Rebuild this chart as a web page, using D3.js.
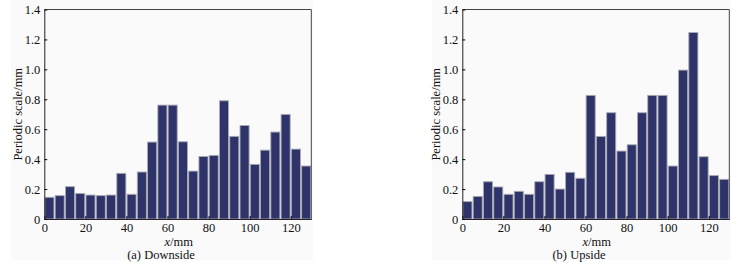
<!DOCTYPE html>
<html>
<head>
<meta charset="utf-8">
<script src="https://cdn.jsdelivr.net/npm/d3@7"></script>
<style>
  body { margin: 0; background: #fff; }
  svg { display: block; }
  svg text { font-family: "Liberation Serif", "Times New Roman", serif; }
</style>
</head>
<body>
<div id="chart"></div>
<script>
// ============================
// Data
// ============================
const binStarts = [0, 5, 10, 15, 20, 25, 30, 35, 40, 45, 50, 55, 60, 65, 70, 75, 80, 85, 90, 95, 100, 105, 110, 115, 120, 125];
const binWidth = 5;

const downside = [0.145, 0.156, 0.216, 0.171, 0.160, 0.156, 0.160, 0.305, 0.165, 0.314, 0.514, 0.761, 0.761, 0.516,
                  0.320, 0.418, 0.425, 0.790, 0.552, 0.625, 0.365, 0.460, 0.581, 0.699, 0.467, 0.354];
const upside = [0.116, 0.151, 0.249, 0.214, 0.165, 0.185, 0.165, 0.249, 0.298, 0.200, 0.312, 0.272, 0.826, 0.552,
                0.710, 0.454, 0.496, 0.710, 0.826, 0.826, 0.354, 0.995, 1.246, 0.416, 0.290, 0.265];

const xTicks = [0, 20, 40, 60, 80, 100, 120];
const yTicks = [0, 0.2, 0.4, 0.6, 0.8, 1.0, 1.2, 1.4];
const xTitle = "/mm";
const yTitle = "Periodic scale/mm";
const captions = ["(a) Downside", "(b) Upside"];

const width = 741, height = 267;
const fontSize = 12.5;
const serif = '"Liberation Serif", "Times New Roman", serif';

const svg = d3.select("#chart").append("svg")
  .attr("width", width).attr("height", height)
  .attr("viewBox", [0, 0, width, height]);

// panel setup: left, right of plot area, caption center, background box
const panels = [
  {values: downside, caption: captions[0], left: 44.3, right: 311.3, capX: 161, bg: [11, 0, 302, 260]},
  {values: upside,   caption: captions[1], left: 462.3, right: 729.3, capX: 579, bg: [432, 0, 299, 260]}
];
const plotTop = 9.5, plotBottom = 219;

panels.forEach(p => drawPanel(p));

function drawPanel(p) {
  const g = svg.append("g");

  // light figure background
  g.append("rect")
    .attr("x", p.bg[0]).attr("y", p.bg[1])
    .attr("width", p.bg[2]).attr("height", p.bg[3])
    .attr("fill", "#fafafa");

  const x = d3.scaleLinear().domain([0, 130]).range([p.left, p.right]);
  const y = d3.scaleLinear().domain([0, 1.4]).range([plotBottom, plotTop]);

  // Bars
  g.append("g")
    .selectAll("rect")
    .data(binStarts.map((b, i) => ({b: b, v: p.values[i]})))
    .join("rect")
    .attr("x", d => x(d.b) + 0.6)
    .attr("width", d => x(d.b + binWidth) - x(d.b) - 1.2)
    .attr("y", d => y(d.v))
    .attr("height", d => y(0) - y(d.v))
    .attr("fill", "#2e3469")
    .attr("stroke", "#a9a9b4")
    .attr("stroke-width", 0.9);

  // frame (top and right)
  g.append("path")
    .attr("d", `M${p.left},${plotTop}H${p.right}V${plotBottom}`)
    .attr("fill", "none")
    .attr("stroke", "#444")
    .attr("stroke-width", 1);

  // X axis
  g.append("g")
    .attr("transform", `translate(0,${plotBottom})`)
    .call(d3.axisBottom(x).tickValues(xTicks).tickSize(-3).tickPadding(4).tickSizeOuter(0))
    .call(a => a.select(".domain").attr("stroke", "#222"))
    .call(a => a.selectAll("text").attr("font-size", fontSize).attr("font-family", serif).attr("fill", "#111"));

  // Y axis
  g.append("g")
    .attr("transform", `translate(${p.left},0)`)
    .call(d3.axisLeft(y).tickValues(yTicks).tickSize(-3).tickPadding(4).tickSizeOuter(0)
      .tickFormat(d => d === 0 ? "0" : d3.format(".1f")(d)))
    .call(a => a.select(".domain").attr("stroke", "#222"))
    .call(a => a.selectAll("text").attr("font-size", fontSize).attr("font-family", serif).attr("fill", "#111"));

  // y label
  g.append("text")
    .attr("transform", `translate(${p.left - 22},${(plotTop + plotBottom) / 2}) rotate(-90)`)
    .attr("text-anchor", "middle")
    .attr("font-size", fontSize)
    .attr("font-family", serif)
    .attr("fill", "#111")
    .text(yTitle);

  // x label
  const xl = g.append("text")
    .attr("x", (p.left + p.right) / 2 + 1)
    .attr("y", 245.5)
    .attr("text-anchor", "middle")
    .attr("font-size", fontSize)
    .attr("font-family", serif)
    .attr("fill", "#111");
  xl.append("tspan").attr("font-style", "italic").text("x");
  xl.append("tspan").text(xTitle);

  // caption
  g.append("text")
    .attr("x", p.capX)
    .attr("y", 258.5)
    .attr("text-anchor", "middle")
    .attr("font-size", fontSize)
    .attr("font-family", serif)
    .attr("fill", "#111")
    .text(p.caption);
}
</script>
</body>
</html>
